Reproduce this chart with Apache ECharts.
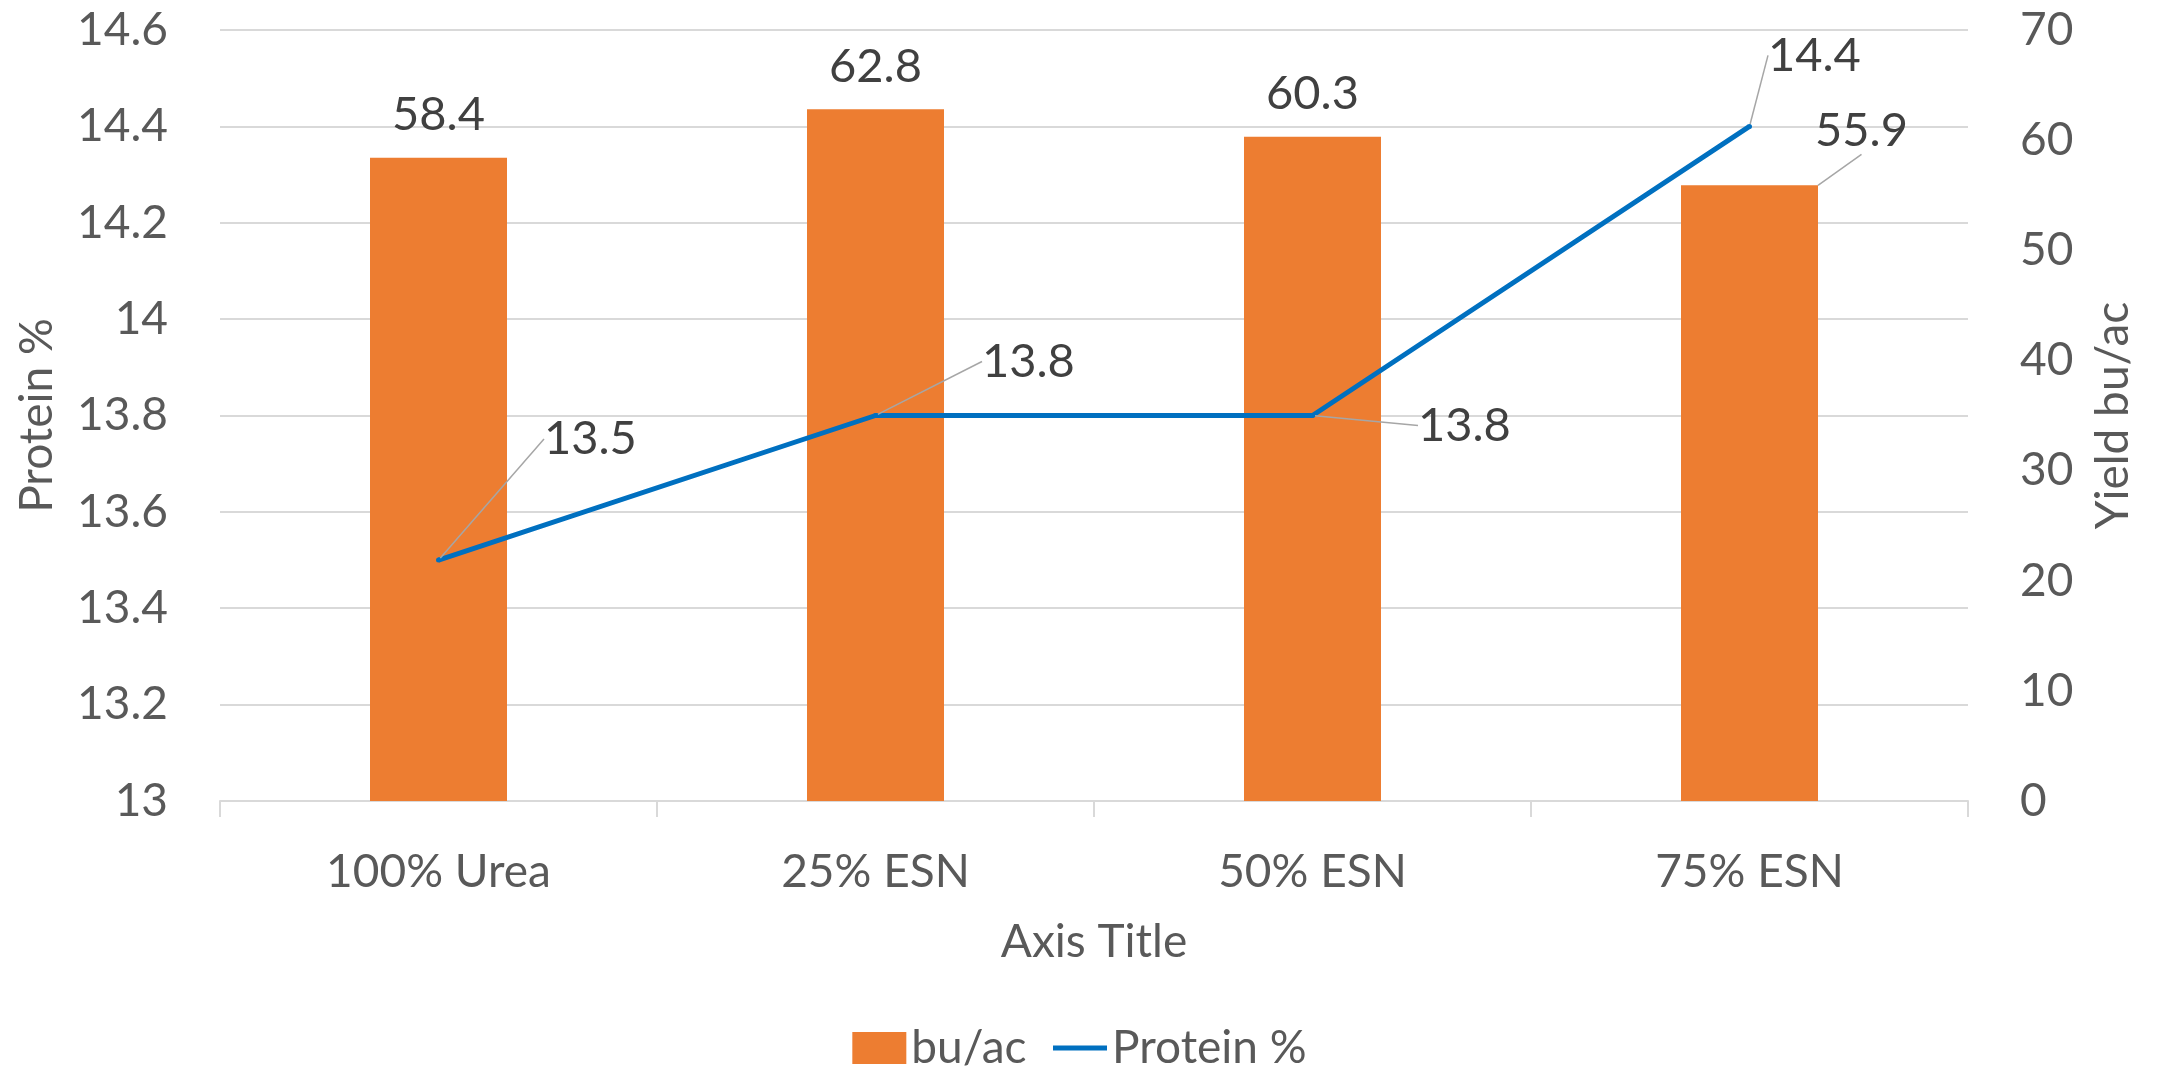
<!DOCTYPE html>
<html>
<head>
<meta charset="utf-8">
<script src="https://cdn.jsdelivr.net/npm/echarts@6/dist/echarts.min.js"></script>
<style>
html,body{margin:0;padding:0;background:#fff;}
#chart{width:2159px;height:1070px;}
</style>
</head>
<body>
<div id="chart"></div>
<script>
// ---- data ----
const categories = ['100% Urea', '25% ESN', '50% ESN', '75% ESN'];
const yieldValues = [58.4, 62.8, 60.3, 55.9];      // bu/ac (right axis)
const proteinValues = [13.5, 13.8, 13.8, 14.4];    // Protein % (left axis)
const proteinAxis = { min: 13, max: 14.6, interval: 0.2 };
const yieldAxis = { min: 0, max: 70, interval: 10 };

// ---- label offsets (style, not data) ----
const proteinLabelShift = [
  { dx: 103, dy: -121 },
  { dx: 104, dy: -54 },
  { dx: 103, dy: 10 },
  { dx: 16, dy: -71 }
];
const yieldLabelShift = [
  { dx: 0, dy: 0 },
  { dx: 0, dy: 0 },
  { dx: 0, dy: 0 },
  { dx: 112, dy: -12 }
];
const yieldLeader = [false, false, false, true];

const FONT = 'Lato';
const axisGrey = '#595959';
const labelGrey = '#404040';
const lineGrey = '#d9d9d9';

const barData = yieldValues.map(function (v, i) {
  return { value: v, labelLine: { show: yieldLeader[i] } };
});

const chart = echarts.init(document.getElementById('chart'));
chart.setOption({
  animation: false,
  textStyle: { fontFamily: FONT },
  grid: { left: 220, right: 191, top: 30, bottom: 269, containLabel: false, outerBoundsMode: 'none' },
  legend: {
    bottom: -6,
    left: 'center',
    itemWidth: 54,
    itemHeight: 32,
    itemGap: 24,
    textStyle: { fontSize: 46, color: axisGrey, fontFamily: FONT },
    data: [
      { name: 'bu/ac', icon: 'rect' },
      { name: 'Protein %', itemStyle: { opacity: 0 }, lineStyle: { width: 5, color: '#0070C0' } }
    ]
  },
  xAxis: {
    type: 'category',
    data: categories,
    boundaryGap: true,
    name: 'Axis Title',
    nameLocation: 'middle',
    nameGap: 118,
    nameTextStyle: { fontSize: 46, color: axisGrey, fontFamily: FONT },
    axisLine: { show: true, lineStyle: { color: lineGrey, width: 2 } },
    axisTick: { show: true, alignWithLabel: false, length: 16, lineStyle: { color: lineGrey, width: 2 } },
    axisLabel: { fontSize: 46, color: axisGrey, margin: 48, fontFamily: FONT },
    splitLine: { show: false }
  },
  yAxis: [
    {
      type: 'value',
      min: proteinAxis.min, max: proteinAxis.max, interval: proteinAxis.interval,
      position: 'left',
      name: 'Protein %',
      nameLocation: 'middle',
      nameRotate: 90,
      nameGap: 160,
      nameTextStyle: { fontSize: 46, color: axisGrey, fontFamily: FONT },
      axisLine: { show: false }, axisTick: { show: false },
      axisLabel: { fontSize: 46, color: axisGrey, margin: 52, fontFamily: FONT },
      splitLine: { show: true, lineStyle: { color: lineGrey, width: 2 } }
    },
    {
      type: 'value',
      min: yieldAxis.min, max: yieldAxis.max, interval: yieldAxis.interval,
      position: 'right',
      name: 'Yield bu/ac',
      nameLocation: 'middle',
      nameRotate: 90,
      nameGap: 122,
      nameTextStyle: { fontSize: 46, color: axisGrey, fontFamily: FONT },
      axisLine: { show: false }, axisTick: { show: false },
      axisLabel: { fontSize: 46, color: axisGrey, margin: 52, fontFamily: FONT },
      splitLine: { show: false }
    }
  ],
  series: [
    {
      name: 'bu/ac',
      type: 'bar',
      yAxisIndex: 1,
      data: barData,
      barWidth: 137,
      itemStyle: { color: '#ED7D31' },
      label: { show: true, position: 'top', distance: 19, fontSize: 47, color: labelGrey, fontFamily: FONT },
      labelLayout: function (p) { return yieldLabelShift[p.dataIndex]; },
      labelLine: { show: false, lineStyle: { color: '#a6a6a6', width: 1.5 } }
    },
    {
      name: 'Protein %',
      type: 'line',
      yAxisIndex: 0,
      data: proteinValues,
      symbol: 'circle',
      symbolSize: 5,
      showSymbol: true,
      itemStyle: { color: '#0070C0' },
      lineStyle: { color: '#0070C0', width: 5 },
      label: { show: true, position: 'right', distance: 0, fontSize: 47, color: labelGrey, fontFamily: FONT },
      labelLayout: function (p) { return proteinLabelShift[p.dataIndex]; },
      labelLine: { show: true, lineStyle: { color: '#a6a6a6', width: 1.5 } }
    }
  ]
});
</script>
</body>
</html>
